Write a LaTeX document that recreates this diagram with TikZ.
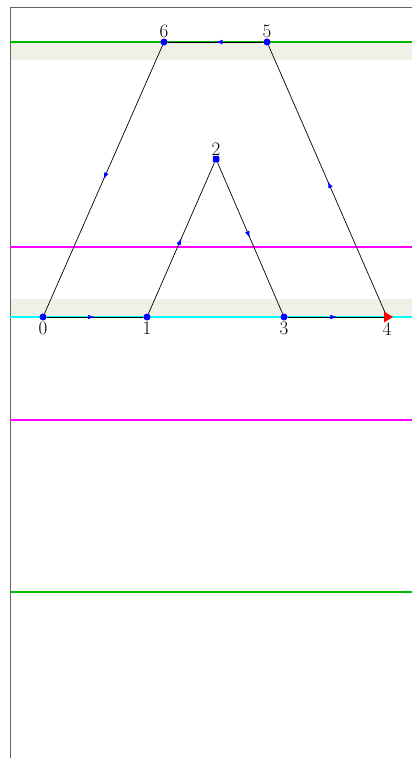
\documentclass[tikz,border=0pt]{standalone}
\usetikzlibrary{decorations.markings,arrows.meta,calc}
\definecolor{band}{RGB}{240,240,230}
\definecolor{grn}{RGB}{0,185,0}
\definecolor{mag}{RGB}{255,0,255}
\definecolor{cyn}{RGB}{0,255,255}
\definecolor{frame}{RGB}{100,100,100}
\definecolor{vblue}{RGB}{0,0,255}
\begin{document}
\begin{tikzpicture}[x=1pt,y=-1pt,
  vert/.style={circle, fill=vblue, inner sep=0pt, minimum size=7pt},
  lbl/.style={inner sep=0pt, font=\fontsize{19}{19}\selectfont},
  edge/.style={draw=black, line width=0.7pt, postaction={decorate},
    decoration={markings, mark=at position 0.5 with {\arrow[vblue]{Latex[length=7pt,width=4.5pt]}}}},
  hline/.style={line width=1.4pt}]
\useasboundingbox (0,0) rectangle (412,758);
% bands
\fill[band] (10,42) rectangle (412,60);
\fill[band] (10,299) rectangle (412,317);
% frame
\draw[frame, line width=1pt] (10,758) -- (10,7) -- (412,7);
% horizontal lines
\draw[grn, hline] (10,42) -- (412,42);
\draw[grn, hline] (10,592) -- (412,592);
\draw[mag, hline] (10,247) -- (412,247);
\draw[mag, hline] (10,420) -- (412,420);
\draw[cyn, hline] (10,317) -- (412,317);
% vertices
\node[vert, label={[lbl, label distance=1pt]below:0}] (n0) at (43,317) {};
\node[vert, label={[lbl, label distance=1pt]below:1}] (n1) at (147,317) {};
\node[vert, rounded corners=1pt, rectangle, minimum size=6.5pt, label={[lbl, label distance=0pt]above:2}] (n2) at (216,159) {};
\node[vert, label={[lbl, label distance=1pt]below:3}] (n3) at (284,317) {};
\node[inner sep=0pt, minimum size=8pt, label={[lbl, label distance=1pt]below:4}] (n4) at (387,317) {};
\node[vert, label={[lbl, label distance=0pt]above:5}] (n5) at (267,42) {};
\node[vert, label={[lbl, label distance=0pt]above:6}] (n6) at (164,42) {};
% edges
\draw[edge] (n0) -- (n1);
\draw[edge] (n1) -- (n2);
\draw[edge] (n2) -- (n3);
\draw[edge] (n3) -- (n4.center);
\draw[edge] (n4.center) -- (n5);
\draw[edge] (n5) -- (n6);
\draw[edge] (n6) -- (n0);
% red tip at 4
\fill[red] ($(n4.center)+(-3,-5.5)$) -- ($(n4.center)+(6,0)$) -- ($(n4.center)+(-3,5.5)$) -- cycle;
\end{tikzpicture}
\end{document}
